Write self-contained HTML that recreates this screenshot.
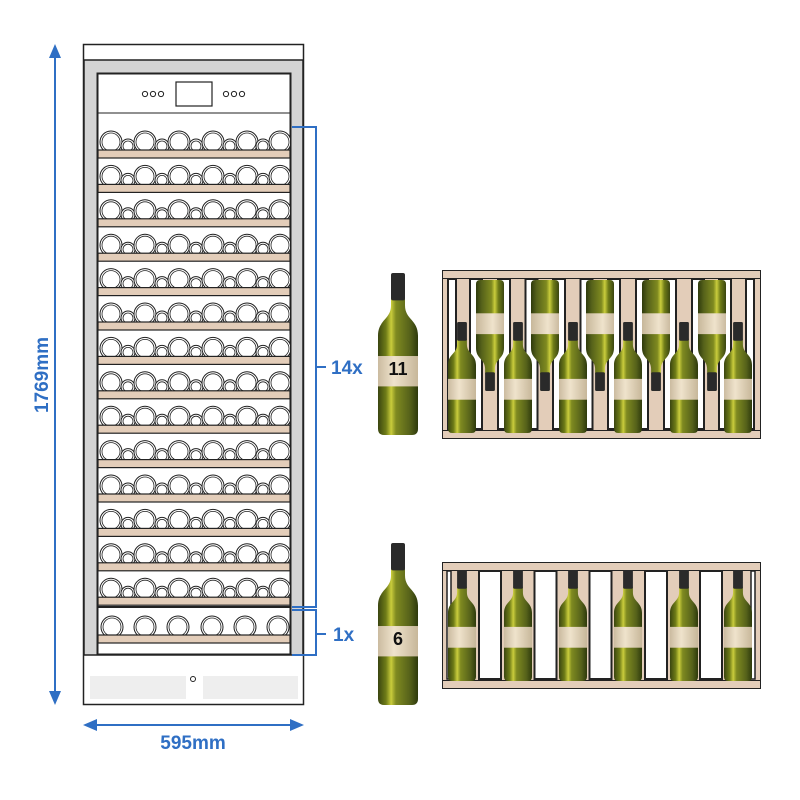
<!DOCTYPE html>
<html><head><meta charset="utf-8"><style>body{margin:0;background:#fff}svg{display:block}</style></head>
<body>
<svg id="s" width="800" height="800" viewBox="0 0 800 800" xmlns="http://www.w3.org/2000/svg">
<defs>
<linearGradient id="g" x1="0" x2="1">
<stop offset="0" stop-color="#3a4510"/><stop offset="0.2" stop-color="#6f7c18"/><stop offset="0.33" stop-color="#c9cc3c"/><stop offset="0.45" stop-color="#7f8a20"/><stop offset="0.8" stop-color="#55611a"/><stop offset="1" stop-color="#2e3a0c"/>
</linearGradient>
<linearGradient id="lb" x1="0" x2="1"><stop offset="0" stop-color="#cbbba0"/><stop offset="0.4" stop-color="#efe3cc"/><stop offset="1" stop-color="#c7b79a"/></linearGradient>
<symbol id="bot" viewBox="0 0 40 160" preserveAspectRatio="none">
<path d="M13,24 L13,32 C13,46 0,46 0,62 L0,154 Q0,160 6,160 L34,160 Q40,160 40,154 L40,62 C40,46 27,46 27,32 L27,24 Z" fill="url(#g)"/>
<rect x="13" y="0" width="14" height="27" rx="2" fill="#2a2a2a"/>
<rect x="0" y="82" width="40" height="30" fill="url(#lb)"/>
</symbol>
</defs>
<g id="fr"></g>
<g fill="#2f6fc4" stroke="#2f6fc4">
<line x1="55" y1="54" x2="55" y2="695" stroke-width="2"/>
<path d="M55,44 L49,58 L61,58Z M55,705 L49,691 L61,691Z" stroke="none"/>
<line x1="93" y1="725" x2="294" y2="725" stroke-width="2"/>
<path d="M83,725 L97,719 L97,731Z M304,725 L290,719 L290,731Z" stroke="none"/>
<path d="M292,127 H316 V607 H292 M316,367 H326 M292,610 H316 V655 H292 M316,634 H326" fill="none" stroke-width="2"/>
</g>
<g font-family="Liberation Sans Narrow, Liberation Sans, sans-serif" font-weight="bold" fill="#2f6fc4" font-size="19">
<text x="0" y="0" transform="translate(48,375) rotate(-90)" text-anchor="middle">1769mm</text>
<text x="193" y="749" text-anchor="middle">595mm</text>
<text x="331" y="374">14x</text>
<text x="333" y="641">1x</text>
</g>
</svg>
<script>
const g=document.getElementById('fr');
let h='';
h+='<rect x="83.5" y="44.5" width="220" height="660" fill="#fff" stroke="#222" stroke-width="1.5"/>';
h+='<rect x="84" y="60" width="219" height="595" fill="#d4d4d4" stroke="#222" stroke-width="1.5"/>';
h+='<rect x="97.5" y="73.5" width="193" height="581" fill="#fff" stroke="#222" stroke-width="2"/>';
h+='<line x1="97" y1="113" x2="291" y2="113" stroke="#222" stroke-width="1"/>';
h+='<rect x="176" y="82" width="36" height="24" fill="#fff" stroke="#222" stroke-width="1.2"/>';
[145,153,161,226,234,242].forEach(x=>h+=`<circle cx="${x}" cy="94" r="2.6" fill="none" stroke="#222" stroke-width="1"/>`);
for(let i=0;i<14;i++){
 const wt=150+i*34.4;
 h+=`<clipPath id="c${i}"><rect x="98" y="${wt-30}" width="192" height="30"/></clipPath><g clip-path="url(#c${i})">`;
 const cs=[111,128,145,162,179,196,213,230,247,263,280];
 const rs=[11,7,11,7,11,7,11,7,11,7,11];
 cs.forEach((c,j)=>{const r=rs[j];h+=`<circle cx="${c}" cy="${wt-r+3}" r="${r}" fill="#fff" stroke="#222" stroke-width="1"/><circle cx="${c}" cy="${wt-r+3}" r="${r-2}" fill="none" stroke="#222" stroke-width="0.8"/>`;});
 h+='</g>';
 h+=`<rect x="98" y="${wt}" width="192" height="8" fill="#e3cdb9" stroke="#222" stroke-width="1.2"/>`;
}
h+='<line x1="97" y1="607" x2="291" y2="607" stroke="#222" stroke-width="2"/>';
h+='<clipPath id="cb"><rect x="98" y="605" width="192" height="30"/></clipPath><g clip-path="url(#cb)">';
[112,145,178,212,245,278].forEach(c=>h+=`<circle cx="${c}" cy="627" r="11" fill="#fff" stroke="#222" stroke-width="1"/><circle cx="${c}" cy="627" r="9" fill="none" stroke="#222" stroke-width="0.8"/>`);
h+='</g><rect x="98" y="635" width="192" height="8" fill="#e3cdb9" stroke="#222" stroke-width="1.2"/>';
h+='<rect x="90" y="676" width="96" height="23" fill="#eee"/><rect x="203" y="676" width="95" height="23" fill="#eee"/><circle cx="193" cy="679" r="2.5" fill="none" stroke="#222"/>';
h+='<use href="#bot" x="378" y="273" width="40" height="162"/><text x="398" y="375" font-family="Liberation Sans,sans-serif" font-weight="bold" font-size="18" text-anchor="middle" fill="#111">11</text>';
h+='<use href="#bot" x="378" y="543" width="40" height="162"/><text x="398" y="645" font-family="Liberation Sans,sans-serif" font-weight="bold" font-size="18" text-anchor="middle" fill="#111">6</text>';
function rack(y0,y1,up){
 let s=`<rect x="442.5" y="${y0}.5" width="318" height="${y1-y0}" fill="#e3cdb9" stroke="#222"/>`;
 s+=`<rect x="442.5" y="${y0+8}.5" width="318" height="${y1-y0-16}" fill="#e3cdb9" stroke="#222"/>`;
 const ucx=[462,518,573,628,684,738],dcx=[490,545,600,656,712];
 const slots=up?[...ucx.slice(0,5).map((c,i)=>(c+dcx[i])/2),...dcx.map((c,i)=>(c+ucx[i+1])/2)]:ucx.slice(0,5).map((c,i)=>(c+ucx[i+1])/2);
 slots.forEach(c=>{const w=up?12:22;s+=`<rect x="${c-w/2}" y="${y0+9}" width="${w}" height="${y1-y0-18}" fill="#fff" stroke="#222" stroke-width="2"/>`});
 if(up){
  s+=`<rect x="448" y="${y0+9}" width="8" height="${y1-y0-18}" fill="#fff" stroke="#222" stroke-width="2"/>`;
  s+=`<rect x="746" y="${y0+9}" width="8" height="${y1-y0-18}" fill="#fff" stroke="#222" stroke-width="2"/>`;
  ucx.forEach(c=>s+=`<use href="#bot" x="${c-14}" y="322" width="28" height="111"/>`);
  dcx.forEach(c=>s+=`<use href="#bot" x="${c-14}" y="280" width="28" height="111" transform="rotate(180 ${c} 335.5)"/>`);
 } else {
  s+=`<rect x="447" y="${y0+9}" width="4" height="${y1-y0-18}" fill="#fff" stroke="#222" stroke-width="1.5"/>`;
  s+=`<rect x="751" y="${y0+9}" width="4" height="${y1-y0-18}" fill="#fff" stroke="#222" stroke-width="1.5"/>`;
  ucx.forEach(c=>s+=`<use href="#bot" x="${c-14}" y="570" width="28" height="111"/>`);
 }
 return s;
}
h+=rack(270,438,true);
h+=rack(562,688,false);
g.innerHTML=h;
</script>
</body></html>
